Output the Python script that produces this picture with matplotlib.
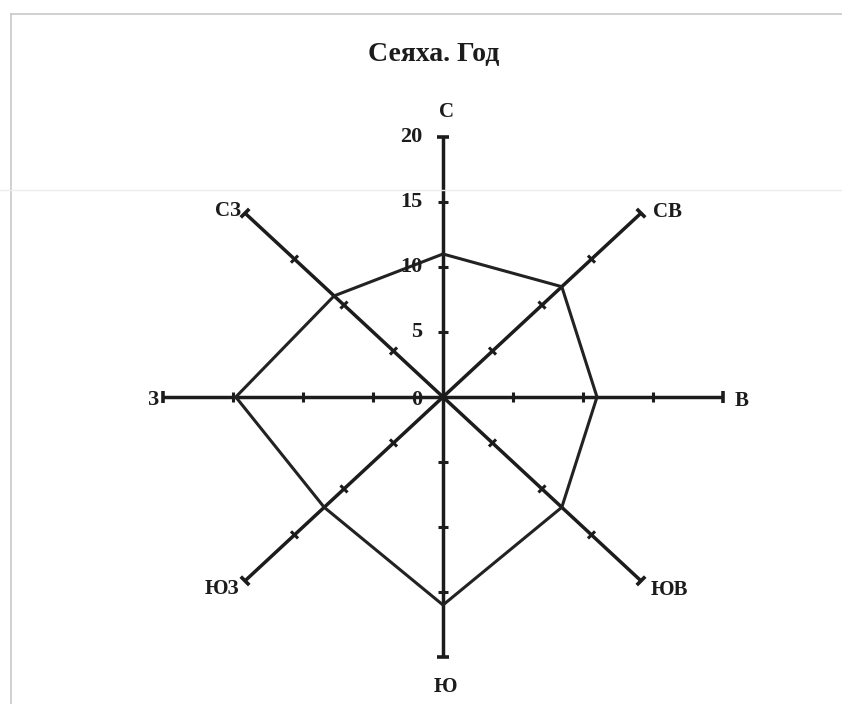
import numpy as np
import matplotlib
matplotlib.use("Agg")
import matplotlib.pyplot as plt

# румбы и повторяемость ветра, %
napravleniya = ['С', 'СВ', 'В', 'ЮВ', 'Ю', 'ЮЗ', 'З', 'СЗ']
ugly = [0, 45, 90, 135, 180, 225, 270, 315]
znacheniya = [11.0, 12.0, 11.0, 12.0, 16.0, 12.0, 14.8, 11.0]
shkala = [0, 5, 10, 15, 20]

W, H = 842, 704
cx, cy = 443, 397          # центр в пикселях
sx, sy = 14.0, 13.0        # пикселей на единицу

fig = plt.figure(figsize=(W / 100, H / 100), dpi=100)
ax = fig.add_axes([0, 0, 1, 1])
ax.set_xlim(-cx / sx, (W - cx) / sx)
ax.set_ylim(-(H - cy) / sy, cy / sy)
ax.axis('off')

shrift = dict(family=['Liberation Serif', 'DejaVu Serif'], fontweight='bold')
cvet = '#1c1c1c'

# рамка и полоса от скана
fig.add_artist(plt.Line2D([11 / W, 11 / W], [0, 1 - 14 / H], color='#c8c8c8', lw=1.2))
fig.add_artist(plt.Line2D([11 / W, 1], [1 - 14 / H, 1 - 14 / H], color='#c8c8c8', lw=1.2))
fig.add_artist(plt.Line2D([0, 1], [1 - 190 / H, 1 - 190 / H], color='#ececec', lw=1.0))

rmax = shkala[-1]
for ug in ugly:
    t = np.radians(ug)
    dx, dy = np.sin(t), np.cos(t)
    ax.plot([0, rmax * dx], [0, rmax * dy], color=cvet, lw=2.5, solid_capstyle='butt', zorder=2)
    # насечки поперёк луча
    px, py = -dy, dx
    for r in shkala[1:]:
        d = 6 if r == rmax else 5
        x0, y0 = r * dx, r * dy
        ax.plot([x0 - px * d / sx, x0 + px * d / sx], [y0 - py * d / sy, y0 + py * d / sy],
                color=cvet, lw=2.6 if r == rmax else 2.2, solid_capstyle='butt', zorder=2)

# многоугольник розы
t = np.radians(ugly + [ugly[0]])
v = np.array(znacheniya + [znacheniya[0]])
ax.plot(v * np.sin(t), v * np.cos(t), color='#222222', lw=2.2, zorder=3)

# подписи шкалы
for r in shkala:
    ax.text(-21 / sx, r - (3 if r == 0 else 0) / sy, str(r), ha='right', va='center', fontsize=16, color=cvet, **shrift)

# подписи румбов
podpisi = {'С': (446, 112, 'center'), 'СВ': (653, 212, 'left'), 'В': (735, 401, 'left'),
           'ЮВ': (651, 590, 'left'), 'Ю': (445, 687, 'center'), 'ЮЗ': (239, 589, 'right'),
           'З': (159, 400, 'right'), 'СЗ': (241, 211, 'right')}
for nm in napravleniya:
    x, y, ha = podpisi[nm]
    ax.text((x - cx) / sx, (cy - y) / sy, nm, ha=ha, va='center', fontsize=15, color=cvet, **shrift)

ax.text((434 - cx) / sx, (cy - 54) / sy, 'Сеяха. Год', ha='center', va='center', fontsize=20, color=cvet, **shrift)

fig.savefig('out.png', dpi=100, facecolor='white')
